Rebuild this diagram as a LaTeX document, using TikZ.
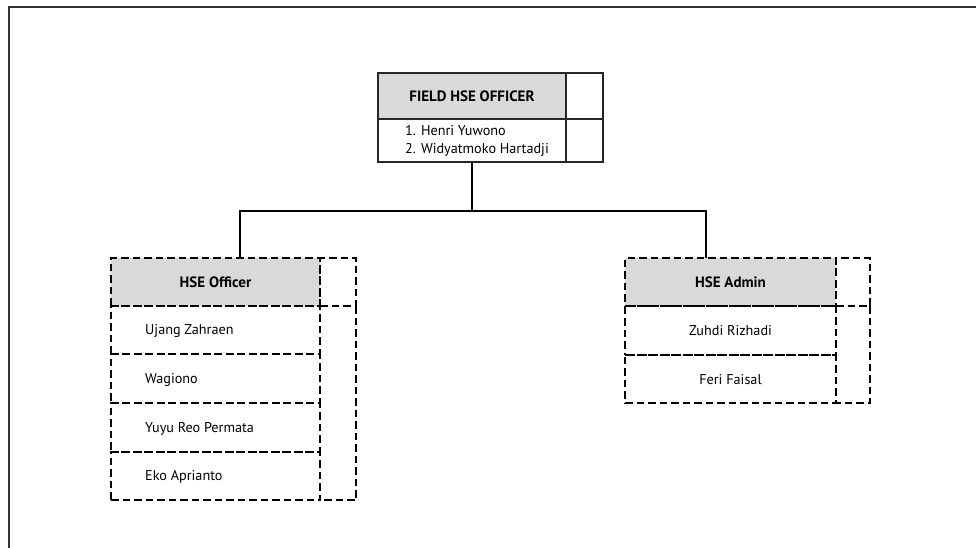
\documentclass[tikz,border=0pt]{standalone}
\usepackage{fontspec}
\setmainfont{PT Sans}
\definecolor{hdrgray}{HTML}{D9D9D9}
\definecolor{framegray}{HTML}{333333}
\begin{document}
\begin{tikzpicture}[x=1pt,y=-1pt,
  cellbase/.style={rectangle, inner sep=0pt, outer sep=0pt},
  solidcell/.style={cellbase, draw=black!85, line width=1.3pt},
  dashline/.style={draw=black, line width=2.5pt, dash pattern=on 7.5pt off 4pt},
  dashcell/.style={cellbase, dashline},
  hdr/.style={fill=hdrgray, font=\fontsize{15}{17}\selectfont\bfseries},
  persontext/.style={font=\fontsize{14.2}{18}\selectfont, inner sep=0pt},
  conn/.style={draw=black, line width=1.3pt}
]
\useasboundingbox (0,0) rectangle (976,548);

% outer frame (open to the right and bottom)
\draw[framegray, line width=2pt] (8.5,548) -- (8.5,7.5) -- (976,7.5);

% ---- Field HSE Officer ----
\node[solidcell, hdr, minimum width=188pt, minimum height=46pt] (fieldhead) at (472,96) {FIELD HSE OFFICER};
\node[solidcell, minimum width=37pt, minimum height=46pt] (fieldheadside) at (584.5,96) {};
\node[solidcell, minimum width=188pt, minimum height=43pt] (fieldbody) at (472,140.5) {};
\node[solidcell, minimum width=37pt, minimum height=43pt] (fieldbodyside) at (584.5,140.5) {};
\node[persontext, anchor=west, align=left] (fieldnames) at (405,141) {1. Henri Yuwono\\2. Widyatmoko Hartadji};

% ---- HSE Officer ----
\node[dashcell, hdr, minimum width=209pt, minimum height=48pt] (officerhead) at (215.5,282) {HSE Officer};
\node[dashcell, minimum width=36pt, minimum height=48pt] (officerheadside) at (338,282) {};
\node[dashcell, minimum width=209pt, minimum height=48pt] (officerrowa) at (215.5,330) {};
\node[dashcell, minimum width=209pt, minimum height=49pt] (officerrowb) at (215.5,378.5) {};
\node[dashcell, minimum width=209pt, minimum height=49pt] (officerrowc) at (215.5,427.5) {};
\node[dashcell, minimum width=209pt, minimum height=48pt] (officerrowd) at (215.5,476) {};
\node[cellbase, minimum width=36pt, minimum height=194pt] (officerside) at (338,403) {};
\draw[dashline] (officerside.north east) -- (officerside.south east) -- (officerside.south west);
\node[persontext, anchor=west] (nameujang) at (145,331) {Ujang Zahraen};
\node[persontext, anchor=west] (namewagiono) at (145,379.5) {Wagiono};
\node[persontext, anchor=west] (nameyuyu) at (145,428.5) {Yuyu Reo Permata};
\node[persontext, anchor=west] (nameeko) at (145,477) {Eko Aprianto};

% ---- HSE Admin ----
\node[dashcell, hdr, minimum width=211pt, minimum height=48pt] (adminhead) at (730.5,282) {HSE Admin};
\node[dashcell, minimum width=34pt, minimum height=48pt] (adminheadside) at (853,282) {};
\node[dashcell, minimum width=211pt, minimum height=49pt] (adminrowa) at (730.5,330.5) {};
\node[dashcell, minimum width=211pt, minimum height=48pt] (adminrowb) at (730.5,379) {};
\node[cellbase, minimum width=34pt, minimum height=97pt] (adminside) at (853,354.5) {};
\draw[dashline] (adminside.north east) -- (adminside.south east) -- (adminside.south west);
\node[persontext] (namezuhdi) at (730.5,331) {Zuhdi Rizhadi};
\node[persontext] (nameferi) at (730.5,380) {Feri Faisal};

% ---- connectors ----
\coordinate (busleft) at (240,211);
\coordinate (busright) at (706,211);
\draw[conn] (fieldbody.south) -- (fieldbody.south |- busleft);
\draw[conn] (busleft |- officerhead.north) -- (busleft) -- (busright) -- (busright |- adminhead.north);
\end{tikzpicture}
\end{document}
